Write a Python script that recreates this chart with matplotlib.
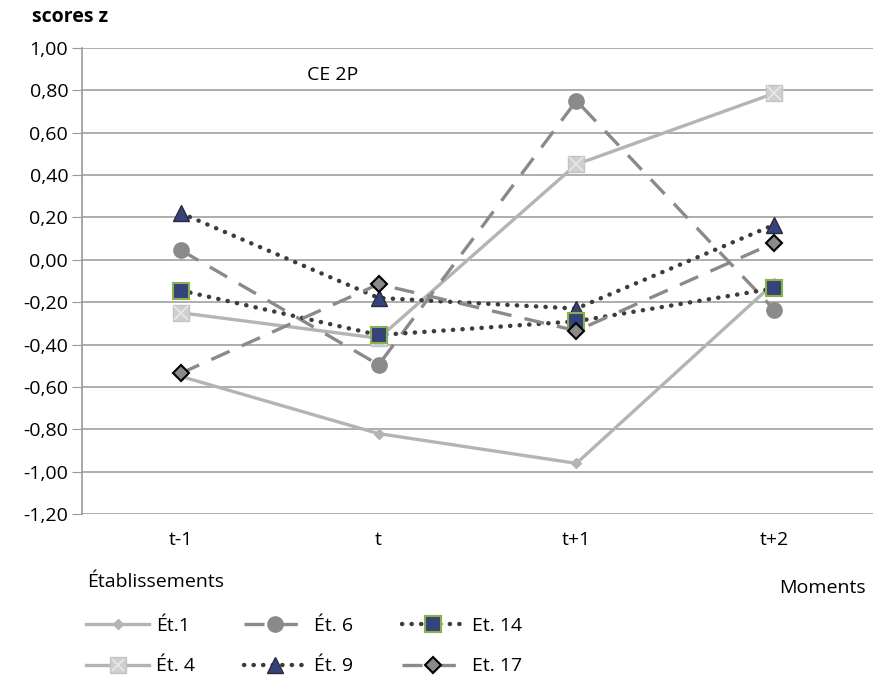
import matplotlib
matplotlib.use("Agg")
import matplotlib.pyplot as plt
from matplotlib.lines import Line2D

plt.rcParams['font.family'] = ['Open Sans', 'DejaVu Sans']

moments = ['t-1', 't', 't+1', 't+2']
et1 = [-0.55, -0.82, -0.96, -0.11]
et4 = [-0.25, -0.37, 0.45, 0.785]
et6 = [0.045, -0.495, 0.75, -0.235]
et9 = [0.22, -0.18, -0.23, 0.165]
et14 = [-0.145, -0.355, -0.29, -0.135]
et17 = [-0.535, -0.115, -0.335, 0.08]
yticks = [1.0, 0.8, 0.6, 0.4, 0.2, 0.0, -0.2, -0.4, -0.6, -0.8, -1.0, -1.2]

fig = plt.figure(figsize=(8.73, 6.82), dpi=100)
ax = fig.add_axes([0.094, 0.246, 0.906, 0.684])

x = range(len(moments))
lw = 2.4
dot = (0, (0.05, 2.1))
dash = (0, (6, 4))
fs = 14

ax.plot(x, et1, color='#b4b4b4', lw=lw, marker='D', ms=5,
        mfc='#b4b4b4', mec='#b4b4b4', zorder=3)
ax.plot(x, et4, color='#b4b4b4', lw=lw, zorder=3)
ax.plot(x, et4, ls='none', marker='s', ms=12, mfc='#cfcfcf', mec='#c4c4c4', zorder=3)
ax.plot(x, et4, ls='none', marker='x', ms=10, mew=1.2, mec='#e8e8e8', zorder=3)
ax.plot(x, et6, color='#8c8a88', lw=lw, ls=dash, marker='o', ms=11,
        mfc='#8c8a88', mec='#8c8a88', zorder=4)
ax.plot(x, et9, color='#3c3c3c', lw=3.2, ls=dot, dash_capstyle='round',
        marker='^', ms=11, mfc='#34447a', mec='#2a2a40', zorder=5)
ax.plot(x, et14, color='#3c3c3c', lw=3.2, ls=dot, dash_capstyle='round',
        marker='s', ms=11, mfc='#34447a', mec='#8cb04c', mew=1.5, zorder=5)
ax.plot(x, et17, color='#8c8a88', lw=lw, ls=dash, marker='D', ms=8,
        mfc='#8c8a88', mec='black', mew=1.5, zorder=6)

ax.set_xlim(-0.5, 3.5)
ax.set_ylim(-1.2, 1.0)
ax.set_yticks(yticks)
ax.set_yticklabels([('%.2f' % v).replace('.', ',') for v in yticks], fontsize=fs)
ax.set_xticks(list(x))
ax.set_xticklabels(moments, fontsize=fs)
ax.tick_params(axis='y', length=7, color='#999999', pad=3)
ax.tick_params(axis='x', length=0, pad=12)
ax.grid(axis='y', color='#a0a0a0', lw=1.2)
ax.set_axisbelow(True)
for s in ['top', 'right', 'bottom']:
    ax.spines[s].set_visible(False)
ax.spines['left'].set_color('#999999')
ax.spines['left'].set_linewidth(1.2)

ax.text(0.64, 0.87, 'CE 2P', fontsize=fs, va='center')
fig.text(0.08, 0.975, 'scores z', fontsize=fs, fontweight='bold', ha='center', va='center')
fig.text(0.178, 0.147, 'Établissements', fontsize=fs, ha='center', va='center')
fig.text(0.942, 0.138, 'Moments', fontsize=fs, ha='center', va='center')

h1 = Line2D([], [], color='#b4b4b4', lw=lw, marker='D', ms=5, mfc='#b4b4b4', mec='#b4b4b4')
h4a = Line2D([], [], color='#b4b4b4', lw=lw, marker='s', ms=11, mfc='#cfcfcf', mec='#c4c4c4')
h4b = Line2D([], [], ls='none', marker='x', ms=9, mew=1.2, mec='#e8e8e8')
h6 = Line2D([], [], color='#8c8a88', lw=lw, ls=dash, marker='o', ms=11, mfc='#8c8a88', mec='#8c8a88')
h9 = Line2D([], [], color='#3c3c3c', lw=3.2, ls=dot, dash_capstyle='round',
            marker='^', ms=11, mfc='#34447a', mec='#2a2a40')
h14 = Line2D([], [], color='#3c3c3c', lw=3.2, ls=dot, dash_capstyle='round',
             marker='s', ms=11, mfc='#34447a', mec='#8cb04c', mew=1.5)
h17 = Line2D([], [], color='#8c8a88', lw=lw, ls=dash, marker='D', ms=8,
             mfc='#8c8a88', mec='black', mew=1.5)
handles = [h1, (h4a, h4b), h6, h9, h14, h17]
labels = ['Ét.1', 'Ét. 4', 'Ét. 6', 'Ét. 9', 'Et. 14', 'Et. 17']
fig.legend(handles, labels, ncol=3, loc='upper left', bbox_to_anchor=(0.079, 0.121),
           frameon=False, fontsize=fs, handlelength=3.2, columnspacing=2.5,
           handletextpad=0.4, labelspacing=1.15)

fig.savefig('out.png', dpi=100)
